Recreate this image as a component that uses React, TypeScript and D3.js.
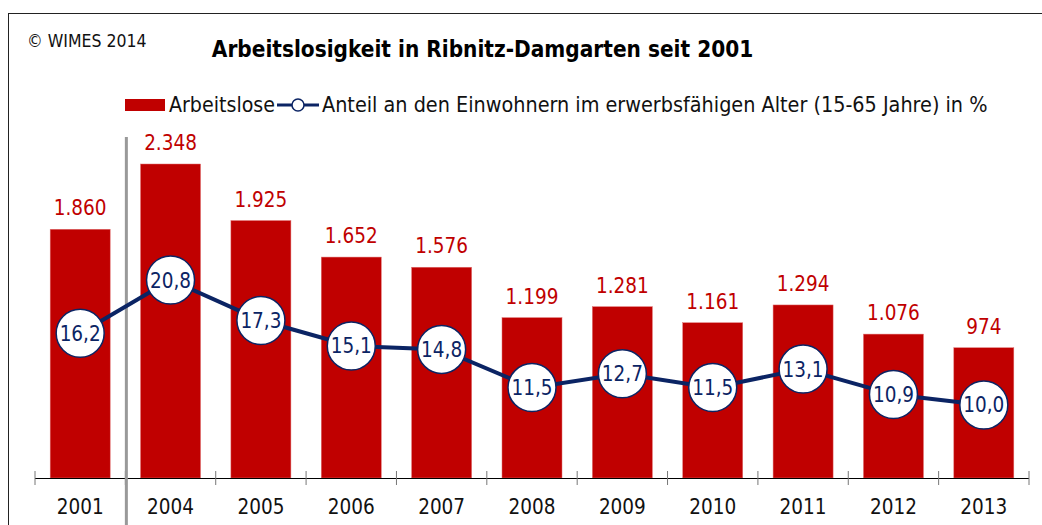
import React from "react";
import * as d3 from "d3";

const years = ["2001", "2004", "2005", "2006", "2007", "2008", "2009", "2010", "2011", "2012", "2013"];
const unemployed = [1860, 2348, 1925, 1652, 1576, 1199, 1281, 1161, 1294, 1076, 974];
const share = [16.2, 20.8, 17.3, 15.1, 14.8, 11.5, 12.7, 11.5, 13.1, 10.9, 10.0];

const FONT = "'DejaVu Sans Condensed', 'DejaVu Sans', sans-serif";
const RED = "#c00000";
const NAVY = "#0b2464";

const fmtInt = (v: number) => d3.format(",")(v).replace(/,/g, ".");
const fmtPct = (v: number) => v.toFixed(1).replace(".", ",");

export default function App() {
  const W = 1042, H = 525;
  const x = d3.scaleBand<string>().domain(years).range([35, 1029]).paddingInner(0.336).paddingOuter(0.168);
  const y = d3.scaleLinear().domain([0, 2348]).range([478, 164]);
  const y2 = d3.scaleLinear().domain([0, 20.8]).range([520.7, 280]);
  const step = x.step();
  const cx = (d: string) => (x(d) as number) + x.bandwidth() / 2;
  const line = d3.line<number>().x((_, i) => cx(years[i])).y((d) => y2(d));
  const boundaries = d3.range(years.length + 1).map((i) => 35 + i * step);

  return (
    <svg width={W} height={H} style={{ position: "absolute", left: 0, top: 0 }} fontFamily={FONT}>
      <rect width={W} height={H} fill="#fff" />
      <rect x={8.5} y={13.5} width={1200} height={700} fill="none" stroke="#222" strokeWidth={1} />
      <text x={27} y={47} fontSize={17.5} fill="#111">© WIMES 2014</text>
      <text x={482.5} y={57} fontSize={22.4} fontWeight="bold" textAnchor="middle" fill="#000">
        Arbeitslosigkeit in Ribnitz-Damgarten seit 2001
      </text>
      {/* legend */}
      <rect x={125} y={99} width={40} height={12} fill={RED} />
      <text x={169} y={112} fontSize={21.2} fill="#111">Arbeitslose</text>
      <line x1={277} x2={319} y1={105} y2={105} stroke={NAVY} strokeWidth={3} />
      <circle cx={298} cy={105} r={6} fill="#fff" stroke={NAVY} strokeWidth={1.5} />
      <text x={322} y={112} fontSize={21.4} fill="#111">
        Anteil an den Einwohnern im erwerbsfähigen Alter (15-65 Jahre) in %
      </text>
      {/* bars */}
      {years.map((yr, i) => (
        <rect key={yr} x={x(yr)} y={y(unemployed[i])} width={x.bandwidth()} height={y(0) - y(unemployed[i])} fill={RED} stroke="#e07070" strokeWidth={0.5} />
      ))}
      {years.map((yr, i) => (
        <text key={"l" + yr} x={cx(yr)} y={y(unemployed[i]) - 14} fontSize={20.5} fill={RED} textAnchor="middle">
          {fmtInt(unemployed[i])}
        </text>
      ))}
      {/* axis */}
      <line x1={35} x2={1029} y1={478.5} y2={478.5} stroke="#000" strokeWidth={1} />
      {boundaries.map((b, i) => (
        <line key={"t" + i} x1={b} x2={b} y1={471} y2={485} stroke="#777" strokeWidth={1} />
      ))}
      {years.map((yr) => (
        <text key={"a" + yr} x={cx(yr)} y={514} fontSize={20.5} fill="#111" textAnchor="middle">{yr}</text>
      ))}
      {/* separator */}
      <line x1={boundaries[1] + 1} x2={boundaries[1] + 1} y1={137} y2={525} stroke="#999" strokeWidth={3} />
      {/* line */}
      <path d={line(share) as string} fill="none" stroke={NAVY} strokeWidth={4} />
      {years.map((yr, i) => (
        <g key={"c" + yr}>
          <circle cx={cx(yr)} cy={y2(share[i])} r={24} fill="#fff" stroke={NAVY} strokeWidth={1.5} />
          <text x={cx(yr)} y={y2(share[i]) + 7.5} fontSize={20.5} fill={NAVY} textAnchor="middle">{fmtPct(share[i])}</text>
        </g>
      ))}
    </svg>
  );
}
